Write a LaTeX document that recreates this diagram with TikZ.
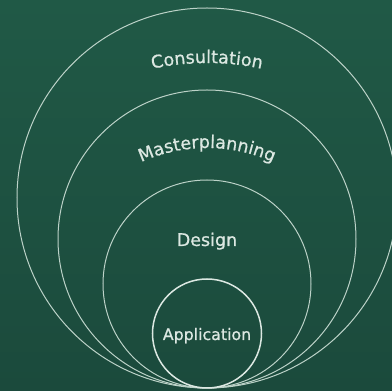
\documentclass[tikz,border=0pt]{standalone}
\usepackage{fontspec}
\setmainfont{DejaVu Sans}[FakeBold=0.8]
\usetikzlibrary{decorations.text}
\definecolor{bgtop}{HTML}{205946}
\definecolor{bgbot}{HTML}{1B4A3C}
\definecolor{ring}{HTML}{BCD2C8}
\definecolor{txt}{HTML}{DCE8E2}
\tikzset{
  ring/.style={draw=ring, line width=1pt},
  innerring/.style={draw=txt, line width=1.5pt},
  label/.style={text=txt, anchor=base, inner sep=0pt},
}
\begin{document}
\begin{tikzpicture}[x=1pt,y=1pt]
\useasboundingbox (0,0) rectangle (392,391);
\clip (0,0) rectangle (392,391);
\shade[top color=bgtop, bottom color=bgbot] (0,0) rectangle (392,391);
% rings
\node[ring, circle, minimum size=380pt, inner sep=0pt] (consult) at (207,193) {};
\node[ring, circle, minimum size=298pt, inner sep=0pt] (master) at (207,152) {};
\node[ring, circle, minimum size=208pt, inner sep=0pt] (design) at (207,107) {};
\node[innerring, circle, minimum size=109pt, inner sep=0pt] (app) at (207,57.5) {};
% labels
\node[label, font=\fontsize{17.5}{20}\selectfont] (designlbl) at (207,145) {Design};
\node[label, font=\fontsize{15.8}{18}\selectfont] (applbl) at (207,51) {Application};
\path[decorate, decoration={text along path, text align=center,
  text={|\color{txt}\fontsize{17.5}{20}\selectfont|Consultation}}]
  (207,68) ++(120:260) arc[start angle=120, end angle=60, radius=260];
\path[decorate, decoration={text along path, text align=center,
  text={|\color{txt}\fontsize{17.5}{20}\selectfont|Masterplanning}}]
  (207,83) ++(150:160) arc[start angle=150, end angle=30, radius=160];
\end{tikzpicture}
\end{document}
